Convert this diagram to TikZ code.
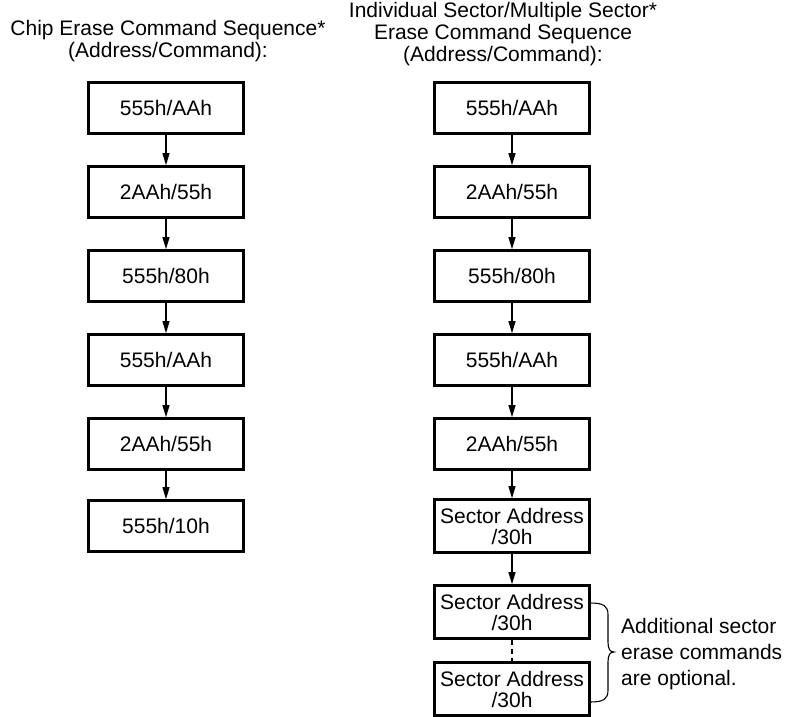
\documentclass[tikz,border=0pt]{standalone}
\usepackage{fontspec}
\setmainfont{Liberation Sans}
\usetikzlibrary{arrows.meta}
\begin{document}
\begin{tikzpicture}[x=1pt,y=-1pt,
  cmd/.style={draw, line width=2.6pt, minimum width=155pt, minimum height=51pt, inner sep=0pt, align=center, font=\fontsize{21}{21}\selectfont},
  two/.style={cmd, minimum height=53pt},
  ttl/.style={align=center, inner sep=0pt, font=\fontsize{21}{22}\selectfont},
  note/.style={align=left, inner sep=0pt, font=\fontsize{21}{26}\selectfont},
  flow/.style={-{Triangle[width=7pt,length=12pt]}, line width=1.1pt},
  thin/.style={line width=1.1pt}]
\useasboundingbox (0,0) rectangle (785,717);
% titles
\node[ttl] (tl) at (168,41) {Chip Erase Command Sequence*\\(Address/Command):};
\node[ttl] (tr) at (503,34) {Individual Sector/Multiple Sector*\\Erase Command Sequence\\(Address/Command):};
% left column
\node[cmd] (l1) at (166,108) {555h/AAh};
\node[cmd] (l2) at (166,192) {2AAh/55h};
\node[cmd] (l3) at (166,276) {555h/80h};
\node[cmd] (l4) at (166,360) {555h/AAh};
\node[cmd] (l5) at (166,444) {2AAh/55h};
\node[cmd] (l6) at (166,526) {555h/10h};
\foreach \a/\b in {l1/l2,l2/l3,l3/l4,l4/l5,l5/l6} \draw[flow] (\a) -- (\b);
% right column
\node[cmd] (r1) at (512,108) {555h/AAh};
\node[cmd] (r2) at (512,192) {2AAh/55h};
\node[cmd] (r3) at (512,276) {555h/80h};
\node[cmd] (r4) at (512,360) {555h/AAh};
\node[cmd] (r5) at (512,444) {2AAh/55h};
\node[two] (s1) at (512,526) {Sector Address\\/30h};
\node[two] (s2) at (512,612) {Sector Address\\/30h};
\node[two] (s3) at (512,689) {Sector Address\\/30h};
\foreach \a/\b in {r1/r2,r2/r3,r3/r4,r4/r5,r5/s1,s1/s2} \draw[flow] (\a) -- (\b);
\draw[thin, dash pattern=on 5pt off 4pt] (s2) -- (s3);
% brace
\coordinate (bt) at (590,603);
\coordinate (bb) at (590,702);
\coordinate (tip) at (614,652);
\draw[thin] (bt) .. controls (604,603) and (608,606) .. (608,615) -- (608,642)
  .. controls (608,649) and (610,652) .. (tip)
  .. controls (610,652) and (608,655) .. (608,662) -- (608,690)
  .. controls (608,699) and (604,702) .. (bb);
\node[note, anchor=west] (nt) at (621,654) {Additional sector\\erase commands\\are optional.};
\end{tikzpicture}
\end{document}
